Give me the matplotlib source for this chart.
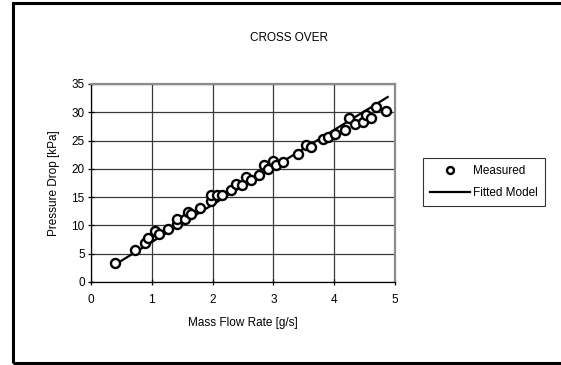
import numpy as np
import matplotlib.pyplot as plt
from matplotlib.patches import Rectangle
from matplotlib.lines import Line2D

plt.rcParams['font.family'] = ['Liberation Sans', 'DejaVu Sans']

# measured pressure drop vs mass flow
flow = [0.40, 0.72, 0.88, 0.94, 1.05, 1.12, 1.26, 1.41, 1.41, 1.55, 1.59, 1.65,
        1.80, 1.97, 1.97, 2.08, 2.16, 2.31, 2.38, 2.49, 2.55, 2.63, 2.77, 2.84,
        2.91, 2.99, 3.04, 3.15, 3.40, 3.54, 3.62, 3.82, 3.89, 4.01, 4.17, 4.25,
        4.34, 4.47, 4.53, 4.61, 4.69, 4.85]
dp = [3.3, 5.6, 6.9, 7.7, 9.0, 8.5, 9.4, 10.3, 11.2, 11.2, 12.4, 12.0,
      13.1, 14.3, 15.3, 15.3, 15.3, 16.3, 17.3, 17.2, 18.6, 18.1, 19.0, 20.6,
      19.9, 21.4, 20.7, 21.3, 22.7, 24.2, 23.9, 25.2, 25.6, 26.2, 26.9, 29.0,
      28.0, 28.2, 29.6, 29.0, 31.0, 30.2]

# fitted model end points
fit_flow = [0.40, 4.88]
fit_dp = [3.1, 32.7]

fig = plt.figure(figsize=(5.61, 3.65), dpi=100)
fig.patches.append(Rectangle((12.5 / 561, 2.5 / 365), 1.05, 360 / 365,
                             transform=fig.transFigure, fill=False,
                             edgecolor='black', linewidth=2.2))

ax = fig.add_axes([91 / 561, 83 / 365, 304 / 561, 198 / 365])
ax.plot(fit_flow, fit_dp, color='black', linewidth=1.6, zorder=3)
ax.plot(flow, dp, linestyle='none', marker='o', markersize=6.5,
        markerfacecolor='white', markeredgecolor='black', markeredgewidth=1.7,
        zorder=4)

ax.set_xlim(0, 5)
ax.set_ylim(0, 35)
ax.set_xticks(np.arange(0, 6, 1))
ax.set_yticks(np.arange(0, 40, 5))
ax.grid(True, color='#3a3a3a', linewidth=0.9)
ax.set_axisbelow(True)
ax.tick_params(direction='inout', length=5, width=0.9, labelsize=8.5,
               colors='black')
ax.tick_params(axis='x', pad=6)
ax.tick_params(axis='y', pad=2)
for s in ['top', 'right']:
    ax.spines[s].set_color('#8c8c8c')
    ax.spines[s].set_linewidth(1.6)
for s in ['left', 'bottom']:
    ax.spines[s].set_color('black')
    ax.spines[s].set_linewidth(0.9)

ax.set_xlabel('Mass Flow Rate [g/s]', fontsize=8.5, labelpad=8)
ax.set_ylabel('Pressure Drop [kPa]', fontsize=8.5, labelpad=8)
fig.text(289 / 561, 1 - 38 / 365, 'CROSS OVER', fontsize=8.5,
         ha='center', va='center')

handles = [Line2D([], [], linestyle='none', marker='o', markersize=5,
                  markerfacecolor='white', markeredgecolor='black',
                  markeredgewidth=1.7),
           Line2D([], [], color='black', linewidth=1.6)]
leg = fig.legend(handles, ['Measured', 'Fitted Model'], fontsize=8.5,
                 loc='center', bbox_to_anchor=(484 / 561, 1 - 182 / 365),
                 frameon=True, fancybox=False, edgecolor='black',
                 handlelength=3.4, handletextpad=0.3, borderpad=0.6,
                 labelspacing=0.8)
leg.get_frame().set_linewidth(0.8)

fig.savefig('out.png', dpi=100)
